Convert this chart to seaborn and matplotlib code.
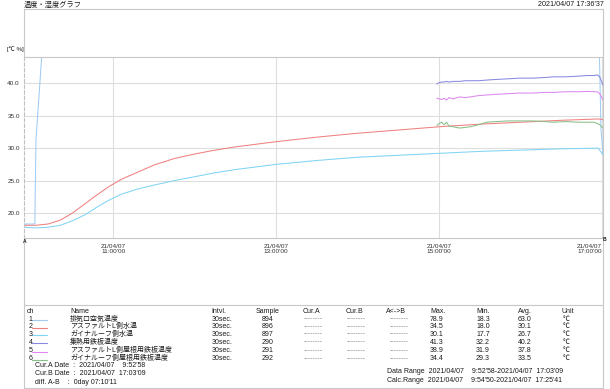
import matplotlib
matplotlib.use("Agg")
import matplotlib.pyplot as plt
from matplotlib.lines import Line2D
from matplotlib import font_manager
import numpy as np
import pandas as pd
import seaborn as sns

# ---------------- data ----------------
channels = ["1", "2", "3", "4", "5", "6"]
names = ["排気口空気温度", "アスファルトL側水温", "ガイナルーフ側水温", "集熱用鉄板温度",
         "アスファルトL側屋根用鉄板温度", "ガイナルーフ側屋根用鉄板温度"]
intervals = ["30sec.", "30sec.", "30sec.", "30sec.", "30sec.", "30sec."]
samples = ["894", "896", "897", "290", "291", "292"]
max_vals = ["78.9", "34.5", "30.1", "41.3", "38.9", "34.4"]
min_vals = ["18.3", "18.0", "17.7", "32.2", "31.9", "29.3"]
avg_vals = ["63.0", "30.1", "26.7", "40.2", "37.8", "33.5"]
colors = ["#a0ccf4", "#f08080", "#80d4f4", "#8888e0", "#dd88f0", "#88c088"]

# time in hours of day
t_ch1 = [9.904, 10.00, 10.037, 10.051, 10.121, 10.20, 10.35, 10.60, 11.00, 12.00, 13.00,
         14.00, 15.00, 16.00, 16.90, 16.955, 16.965, 16.985, 17.01]
v_ch1 = [18.3, 18.3, 18.3, 31.3, 44.1, 52.0, 61.0, 68.0, 71.0, 73.5, 74.5,
         75.5, 76.5, 77.5, 78.2, 70.0, 45.0, 33.0, 29.0]

t_main = [9.904, 10.05, 10.20, 10.35, 10.50, 10.65, 10.80, 10.95, 11.10, 11.30, 11.50, 11.75,
          12.00, 12.25, 12.50, 12.75, 13.00, 13.50, 14.00, 14.50, 15.00, 15.50, 16.00, 16.50,
          16.95, 17.01]
v_ch2 = [18.1, 18.1, 18.3, 18.9, 20.0, 21.4, 22.8, 24.1, 25.2, 26.3, 27.4, 28.4,
         29.1, 29.7, 30.2, 30.6, 31.0, 31.7, 32.3, 32.8, 33.3, 33.7, 34.0, 34.3,
         34.5, 34.4]
v_ch3 = [17.8, 17.7, 17.8, 18.1, 18.8, 19.7, 20.9, 22.0, 22.9, 23.7, 24.3, 25.0,
         25.6, 26.2, 26.7, 27.1, 27.5, 28.1, 28.6, 28.9, 29.2, 29.5, 29.7, 29.9,
         30.0, 29.0]

t_sub = [14.97, 15.00, 15.03, 15.06, 15.09, 15.12, 15.17, 15.25, 15.32, 15.38, 15.48, 15.58,
         15.70, 15.85, 15.99, 16.15, 16.30, 16.40, 16.55, 16.70, 16.82, 16.90, 16.94, 16.97, 17.01]
v_ch4 = [39.9, 40.1, 40.2, 40.2, 40.3, 40.2, 40.3, 40.3, 40.4, 40.4, 40.4, 40.5,
         40.6, 40.7, 40.8, 40.8, 40.9, 41.0, 41.0, 41.1, 41.2, 41.2, 41.3, 41.0, 39.7]
v_ch5 = [37.7, 37.6, 37.5, 37.7, 37.4, 37.8, 37.6, 37.9, 37.8, 37.9, 38.1, 38.2,
         38.3, 38.4, 38.5, 38.5, 38.6, 38.6, 38.7, 38.7, 38.75, 38.7, 38.7, 38.4, 37.4]
v_ch6 = [33.5, 33.8, 34.0, 33.6, 34.0, 33.4, 33.3, 33.1, 33.2, 33.3, 33.6, 34.0,
         34.1, 34.2, 34.2, 34.2, 34.1, 34.0, 34.1, 34.0, 34.0, 34.0, 33.8, 33.6, 33.1]

y_ticks = [20, 25, 30, 35, 40]
y_ticklabels = ["20.0", "25.0", "30.0", "35.0", "40.0"]
x_ticks = [11, 13, 15, 17]
x_ticklabels = ["21/04/07\n11:00'00", "21/04/07\n13:00'00", "21/04/07\n15:00'00", "21/04/07\n17:00'00"]

# ---------------- style ----------------
sns.set_style("white")
avail = {f.name for f in font_manager.fontManager.ttflist}
narrow = "Liberation Sans Narrow" if "Liberation Sans Narrow" in avail else "Liberation Sans"
FAM = [narrow, "Noto Sans CJK JP", "DejaVu Sans"]
plt.rcParams["font.family"] = FAM
plt.rcParams["axes.unicode_minus"] = False

W, H = 610, 389
fig = plt.figure(figsize=(W / 100, H / 100), dpi=100)

def fx(x):
    return x / W

def fy(y):
    return 1 - y / H

ax = fig.add_axes([fx(24), fy(238), (603 - 24) / W, (238 - 57) / H])

frames = []
for ch, t, v in [("1", t_ch1, v_ch1), ("2", t_main, v_ch2), ("3", t_main, v_ch3),
                 ("4", t_sub, v_ch4), ("5", t_sub, v_ch5), ("6", t_sub, v_ch6)]:
    frames.append(pd.DataFrame({"t": t, "v": v, "ch": ch}))
df = pd.concat(frames, ignore_index=True)

sns.lineplot(data=df, x="t", y="v", hue="ch", palette=dict(zip(channels, colors)),
             estimator=None, sort=False, lw=0.75, legend=False, ax=ax)

ax.set_xlim(9.904, 17.01)
ax.set_ylim(16.14, 44.06)
ax.set_xlabel("")
ax.set_ylabel("")
ax.set_yticks(y_ticks)
ax.set_yticklabels(y_ticklabels, fontsize=4.6, color="#333333")
ax.set_xticks(x_ticks)
ax.set_xticklabels(x_ticklabels, fontsize=4.6, color="#333333", linespacing=0.95)
xl = ax.get_xticklabels()
xl[-1].set_ha("right")
ax.tick_params(axis="y", length=2, width=0.6, color="#999999", pad=1)
ax.tick_params(axis="x", length=0, pad=4.5)
ax.grid(True, color="#dedede", lw=0.8)
ax.set_axisbelow(True)
for s in ["top", "bottom", "right"]:
    ax.spines[s].set_color("#c8c8c8")
    ax.spines[s].set_linewidth(0.8)
ax.spines["left"].set_color("#c0c0c0")
ax.spines["left"].set_linewidth(0.8)
ax.spines["left"].set_linestyle((0, (3, 2)))

def hline(x0, x1, y, c="#c8c8c8", lw=0.8):
    fig.add_artist(Line2D([fx(x0), fx(x1)], [fy(y), fy(y)], transform=fig.transFigure, color=c, lw=lw))

def vline(x, y0, y1, c="#c8c8c8", lw=0.8):
    fig.add_artist(Line2D([fx(x), fx(x)], [fy(y0), fy(y1)], transform=fig.transFigure, color=c, lw=lw))

# outer frame
hline(24, 603, 9)
vline(24, 9, 57)
vline(603, 9, 57)
vline(24, 238, 388)
vline(603, 238, 388)
hline(24, 603, 305)
hline(24, 603, 388)

def T(x, y, s, size=5.0, ha="left", color="#1a1a1a", **kw):
    fig.text(fx(x), fy(y), s, fontsize=size, ha=ha, va="center", color=color, **kw)

T(24, 5, "温度・湿度グラフ", size=5.2)
T(604, 5, "2021/04/07 17:36'37", size=5.2, ha="right")
T(7, 49, "[℃ %]", size=4.4)
T(23, 241.5, "A", size=3.6, weight="bold")
T(603, 239.5, "B", size=3.6, weight="bold")

# table
hy = 311.5
T(27, hy, "ch")
T(70, hy, "Name")
T(211, hy, "Intvl.")
T(256, hy, "Sample")
T(303, hy, "Cur.A")
T(346, hy, "Cur.B")
T(386, hy, "A<->B")
T(430, hy, "Max.")
T(476, hy, "Min.")
T(518, hy, "Avg.")
T(561, hy, "Unit")

row_y = [319.2, 326.6, 334.2, 342.2, 350.4, 358.6]
for i in range(6):
    y = row_y[i]
    T(28.5, y, channels[i])
    hline(32, 47, y + 1.2, c=colors[i], lw=0.8)
    T(70, y, names[i])
    T(212, y, intervals[i])
    T(268, y, samples[i], ha="center")
    T(303.5, y, "--------", color="#888888")
    T(346.5, y, "--------", color="#888888")
    T(389.5, y, "--------", color="#888888")
    T(430, y, max_vals[i])
    T(476, y, min_vals[i])
    T(518, y, avg_vals[i])
    T(563, y, "℃")

T(35, 365.6, "Cur.A Date  :  2021/04/07    9:52'58")
T(35, 373.8, "Cur.B Date  :  2021/04/07  17:03'09")
T(35, 382.0, "diff. A-B    :  0day 07:10'11")
T(387, 371.8, "Data Range  2021/04/07    9:52'58-2021/04/07  17:03'09")
T(387, 380.3, "Calc.Range  2021/04/07    9:54'50-2021/04/07  17:25'41")

fig.savefig("out.png", dpi=100)
